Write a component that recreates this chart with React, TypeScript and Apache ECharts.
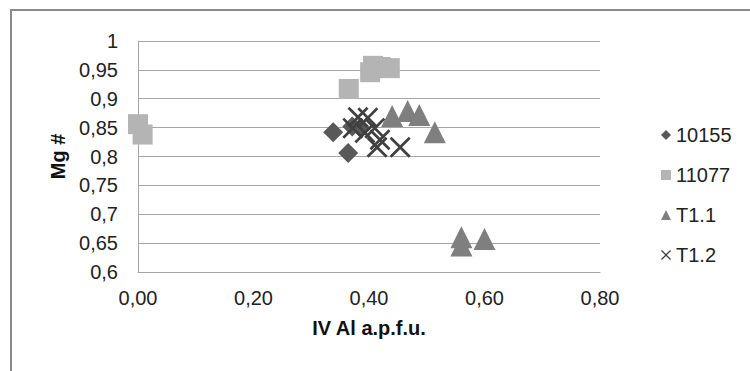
import React, { useEffect, useRef } from "react";
import * as echarts from "echarts";

const seriesNames = ["10155", "11077", "T1.1", "T1.2"];
const data10155 = [
  [0.338, 0.842],
  [0.364, 0.806],
  [0.371, 0.852],
  [0.385, 0.85],
];
const data11077 = [
  [0.0, 0.856],
  [0.008, 0.838],
  [0.365, 0.917],
  [0.402, 0.946],
  [0.407, 0.957],
  [0.42, 0.955],
  [0.436, 0.953],
];
const dataT11 = [
  [0.44, 0.87],
  [0.467, 0.879],
  [0.487, 0.872],
  [0.514, 0.842],
  [0.56, 0.66],
  [0.56, 0.646],
  [0.6, 0.657],
];
const dataT12 = [
  [0.381, 0.868],
  [0.398, 0.867],
  [0.372, 0.849],
  [0.41, 0.849],
  [0.393, 0.841],
  [0.419, 0.829],
  [0.414, 0.816],
  [0.454, 0.816],
];
const xTitle = "IV Al a.p.f.u.";
const yTitle = "Mg #";

const FONT = "'Liberation Sans', Arial, sans-serif";
const CROSS =
  "path://M0,2 L2,0 L11,9 L20,0 L22,2 L13,11 L22,20 L20,22 L11,13 L2,22 L0,20 L9,11 Z";

export default function App() {
  const ref = useRef<HTMLDivElement>(null);
  useEffect(() => {
    if (!ref.current) return;
    const chart = echarts.init(ref.current, undefined, { renderer: "svg" });
    const gridColor = "#a6a6a6";
    chart.setOption({
      animation: false,
      backgroundColor: "#ffffff",
      textStyle: { fontFamily: FONT },
      grid: { left: 138, right: 150, top: 41, bottom: 99, containLabel: false },
      graphic: [
        {
          type: "rect",
          shape: { x: 11, y: 10, width: 780, height: 400 },
          style: { fill: "none", stroke: "#8a8a8a", lineWidth: 2 },
          silent: true,
        },
      ],
      legend: {
        orient: "vertical",
        left: 656,
        top: 120,
        itemWidth: 10,
        itemHeight: 10,
        itemGap: 20,
        textStyle: { fontFamily: FONT, fontSize: 20, color: "#222", lineHeight: 20 },
        data: [
          { name: seriesNames[0], icon: "diamond" },
          { name: seriesNames[1], icon: "rect" },
          { name: seriesNames[2], icon: "triangle" },
          { name: seriesNames[3], icon: CROSS },
        ],
      },
      xAxis: {
        type: "value",
        min: 0,
        max: 0.8,
        interval: 0.2,
        name: xTitle,
        nameLocation: "middle",
        nameGap: 46,
        nameTextStyle: { fontFamily: FONT, fontSize: 20, fontWeight: "bold", color: "#111" },
        axisLine: { show: true, lineStyle: { color: gridColor, width: 1 } },
        axisTick: { show: false },
        splitLine: { show: false },
        axisLabel: {
          margin: 16,
          fontFamily: FONT,
          fontSize: 20,
          color: "#222",
          formatter: (v: number) => v.toFixed(2).replace(".", ","),
        },
      },
      yAxis: {
        type: "value",
        min: 0.6,
        max: 1,
        interval: 0.05,
        name: yTitle,
        nameLocation: "middle",
        nameGap: 70,
        nameTextStyle: { fontFamily: FONT, fontSize: 20, fontWeight: "bold", color: "#111" },
        axisLine: { show: true, lineStyle: { color: gridColor, width: 1 } },
        axisTick: { show: false },
        splitLine: { show: true, lineStyle: { color: gridColor, width: 1 } },
        axisLabel: {
          margin: 20,
          fontFamily: FONT,
          fontSize: 20,
          color: "#222",
          formatter: (v: number) => String(Number(v.toFixed(2))).replace(".", ","),
        },
      },
      series: [
        {
          name: seriesNames[0],
          type: "scatter",
          symbol: "diamond",
          symbolSize: 20,
          itemStyle: { color: "#595959", opacity: 1 },
          data: data10155,
        },
        {
          name: seriesNames[1],
          type: "scatter",
          symbol: "rect",
          symbolSize: 20,
          itemStyle: { color: "#b4b4b4", opacity: 1 },
          data: data11077,
        },
        {
          name: seriesNames[2],
          type: "scatter",
          symbol: "triangle",
          symbolSize: 22,
          itemStyle: { color: "#7f7f7f", opacity: 1 },
          data: dataT11,
        },
        {
          name: seriesNames[3],
          type: "scatter",
          symbol: CROSS,
          symbolSize: 21,
          itemStyle: { color: "#404040", opacity: 1 },
          data: dataT12,
        },
      ],
    });
    return () => chart.dispose();
  }, []);
  return (
    <div
      ref={ref}
      style={{ position: "fixed", left: 0, top: 0, width: 750, height: 371, background: "#fff" }}
    />
  );
}
